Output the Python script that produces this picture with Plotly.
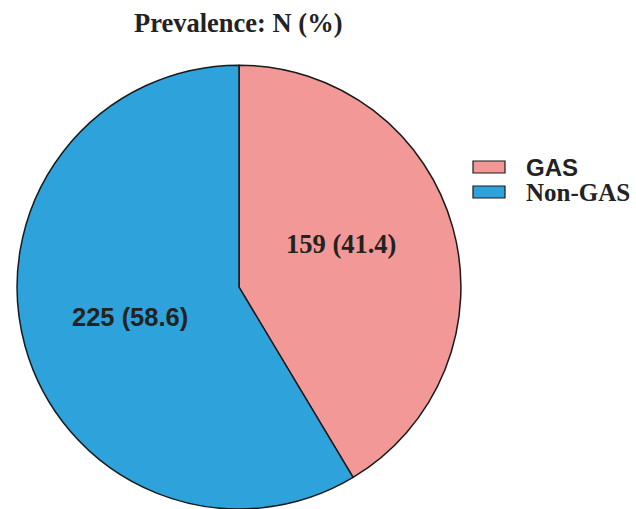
import plotly.graph_objects as go

# Prevalence data
groups = ["GAS", "Non-GAS"]
counts = [159, 225]
colors = ["#F29896", "#2EA3DB"]

W, H = 636, 509
total = sum(counts)
pcts = [round(c / total * 100, 1) for c in counts]
slice_text = [f"{c} ({p})" for c, p in zip(counts, pcts)]

SERIF = "Liberation Serif, Times New Roman, serif"
SANS = "Liberation Sans, Arial, sans-serif"

fig = go.Figure(
    go.Pie(
        labels=groups,
        values=counts,
        sort=False,
        direction="clockwise",
        rotation=0,
        marker=dict(colors=colors, line=dict(color="#1a1a1a", width=1.5)),
        textinfo="none",
        hoverinfo="label+value+percent",
        showlegend=False,
        domain=dict(x=[16 / W, 462 / W], y=[0, 0.872]),
    )
)

def px(x, y):
    return x / W, 1 - y / H

annotations = []
# slice labels
label_pos = [(341, 244), (130, 317)]
label_fonts = [SERIF, SANS]
label_sizes = [26.5, 25.5]
for txt, (lx, ly), fam, sz in zip(slice_text, label_pos, label_fonts, label_sizes):
    ax, ay = px(lx, ly)
    annotations.append(dict(x=ax, y=ay, xref="paper", yref="paper", text=f"<b>{txt}</b>",
                            showarrow=False, xanchor="center", yanchor="middle",
                            font=dict(family=fam, size=sz, color="#222222")))

# title
tx, ty = px(238, 23)
annotations.append(dict(x=tx, y=ty, xref="paper", yref="paper", text="<b>Prevalence: N (%)</b>",
                        showarrow=False, xanchor="center", yanchor="middle",
                        font=dict(family=SERIF, size=26.5, color="#222222")))

# legend: coloured keys with labels to the right
shapes = []
legend_fonts = [SANS, SERIF]
legend_sizes = [24, 25]
for i, (g, col, fam, sz) in enumerate(zip(groups, colors, legend_fonts, legend_sizes)):
    top = 161 + i * 25
    x0, y1 = px(473, top)
    x1, y0 = px(505, top + 12)
    shapes.append(dict(type="rect", xref="paper", yref="paper", x0=x0, x1=x1, y0=y0, y1=y1,
                       fillcolor=col, line=dict(color="#1a1a1a", width=1.2)))
    lx, ly = px(524, top + 6)
    annotations.append(dict(x=lx, y=ly, xref="paper", yref="paper", text=f"<b>{g}</b>",
                            showarrow=False, xanchor="left", yanchor="middle",
                            font=dict(family=fam, size=sz, color="#222222")))

fig.update_layout(
    width=W, height=H,
    margin=dict(l=0, r=0, t=0, b=0),
    paper_bgcolor="white", plot_bgcolor="white",
    annotations=annotations, shapes=shapes,
)

fig.write_html("out.html")
